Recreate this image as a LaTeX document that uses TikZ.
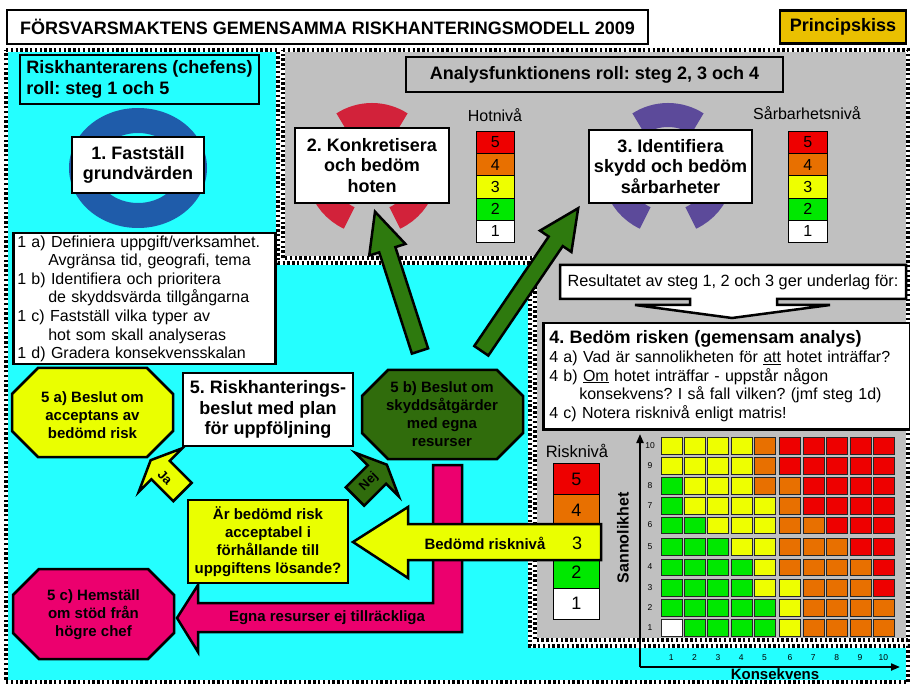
\documentclass[tikz,border=0pt]{standalone}
\usepackage{fontspec}
\setmainfont{Liberation Sans}
\usetikzlibrary{arrows.meta}
\definecolor{cyanbg}{RGB}{36,255,255}
\definecolor{graybg}{RGB}{192,192,192}
\definecolor{ringblue}{RGB}{31,92,170}
\definecolor{arcred}{RGB}{210,34,58}
\definecolor{arcpurple}{RGB}{92,74,154}
\definecolor{arrowgreen}{RGB}{46,122,14}
\definecolor{octgreen}{RGB}{48,108,12}
\definecolor{yel}{RGB}{234,255,0}
\definecolor{pinkc}{RGB}{236,0,110}
\definecolor{gold}{RGB}{234,192,0}
\definecolor{cR}{RGB}{238,0,0}
\definecolor{cO}{RGB}{232,112,0}
\definecolor{cY}{RGB}{238,255,0}
\definecolor{cG}{RGB}{0,232,0}
\colorlet{cW}{white}
\newcommand{\octa}[5]{\draw[shapeline, fill=#5] ({#1+26},#2) -- ({#3-26},#2) -- (#3,{#2+26}) -- (#3,{#4-26}) -- ({#3-26},#4) -- ({#1+26},#4) -- (#1,{#4-26}) -- (#1,{#2+26}) -- cycle;}
\begin{document}
\frenchspacing
\begin{tikzpicture}[x=1pt,y=-1pt,
  box/.style={draw, line width=2.5pt, fill=white, inner sep=0pt, align=center},
  shapeline/.style={draw=black, line width=2.5pt, line join=miter},
  bigfont/.style={font=\bfseries\fontsize{18}{20.5}\selectfont},
  midfont/.style={font=\bfseries\fontsize{15}{18}\selectfont},
  txtfont/.style={font=\fontsize{16}{18.6}\selectfont},
  scell/.style={draw=black, line width=0.8pt, inner sep=0pt, anchor=north west, font=\fontsize{16}{16}\selectfont},
  mcell/.style={draw=black!85, line width=0.8pt, inner sep=0pt, anchor=north west, minimum width=21pt, minimum height=16.7pt},
  axlab/.style={font=\fontsize{8.5}{9}\selectfont, inner sep=0pt},
  axisline/.style={line width=2pt, -{Triangle[length=9pt,width=7pt]}},
  dotw/.style={white, line width=3.2pt},
  dotb/.style={black, line width=3.2pt, dash pattern=on 2.4pt off 2.4pt},
  arcseg/.style={line width=24pt},
  smalltag/.style={font=\bfseries\fontsize{13}{13}\selectfont, inner sep=0pt}
]
\useasboundingbox (0,0) rectangle (910,684);
\fill[white] (0,0) rectangle (910,684);
% regions
\fill[cyanbg] (6,50) -- (278,50) -- (278,263) -- (530,263) -- (530,646) -- (908,646) -- (908,682) -- (6,682) -- cycle;
\fill[graybg] (283,50) -- (908,50) -- (908,640) -- (535,640) -- (535,258) -- (283,258) -- cycle;
\foreach \s in {dotw,dotb}{
  \draw[\s] (6,50) -- (278,50) -- (278,263) -- (530,263) -- (530,646) -- (908,646) -- (908,682) -- (6,682) -- cycle;
  \draw[\s] (283,50) -- (908,50) -- (908,640) -- (535,640) -- (535,258) -- (283,258) -- cycle;
}
% title
\node[box, bigfont, minimum width=641pt, minimum height=34pt] (title) at (327.5,27) {FÖRSVARSMAKTENS GEMENSAMMA RISKHANTERINGSMODELL 2009};
\node[box, bigfont, fill=gold, minimum width=126pt, minimum height=33pt] (princ) at (843,27) {Principskiss};
% step 1
\node[box, bigfont, fill=cyanbg, minimum width=239pt, minimum height=49pt, align=left] (chef) at (139.5,79.5) {Riskhanterarens (chefens)\\roll: steg 1 och 5};
\fill[ringblue, even odd rule] (138,168) ellipse [x radius=69pt, y radius=60pt] (138,168) ellipse [x radius=42pt, y radius=35pt];
\node[box, bigfont, minimum width=132pt, minimum height=56pt] (grund) at (138,165) {1. Fastställ\\grundvärden};
\node[box, txtfont, align=left, anchor=north west, text width=254pt, inner xsep=4pt, minimum height=131pt] (steg1) at (12,232) {1 a) Definiera uppgift/verksamhet.\\
\hspace*{31pt}Avgränsa tid, geografi, tema\\
1 b) Identifiera och prioritera\\
\hspace*{31pt}de skyddsvärda tillgångarna\\
1 c) Fastställ vilka typer av\\
\hspace*{31pt}hot som skall analyseras\\
1 d) Gradera konsekvensskalan};
% arcs
\begin{scope}[shift={(372,169)}, y=1pt]
  \draw[arcred, arcseg] (57:54) arc[start angle=57, end angle=123, radius=54];
  \draw[arcred, arcseg] (195:54) arc[start angle=195, end angle=245, radius=54];
  \draw[arcred, arcseg] (295:54) arc[start angle=295, end angle=345, radius=54];
\end{scope}
\begin{scope}[shift={(668,169)}, y=1pt]
  \draw[arcpurple, arcseg] (57:54) arc[start angle=57, end angle=123, radius=54];
  \draw[arcpurple, arcseg] (195:54) arc[start angle=195, end angle=245, radius=54];
  \draw[arcpurple, arcseg] (295:54) arc[start angle=295, end angle=345, radius=54];
\end{scope}
\node[box, bigfont, minimum width=154pt, minimum height=75pt] (hot) at (372,165.5) {2. Konkretisera\\och bedöm\\hoten};
\node[box, bigfont, minimum width=163pt, minimum height=73pt] (skydd) at (670.5,166.5) {3. Identifiera\\skydd och bedöm\\sårbarheter};
\node[box, bigfont, fill=graybg, minimum width=377pt, minimum height=35pt] (analys) at (594.5,74.5) {Analysfunktionens roll: steg 2, 3 och 4};
% scales
\node[txtfont] (hotlab) at (495,115) {Hotnivå};
\node[txtfont] (sarlab) at (807,113) {Sårbarhetsnivå};
\foreach \c [count=\i] in {cR,cO,cY,cG,cW}{
  \pgfmathtruncatemacro\n{6-\i}
  \node[scell, fill=\c, minimum width=38pt, minimum height=22.2pt] (hn\n) at (476,{131+22.2*(\i-1)}) {\n};
  \node[scell, fill=\c, minimum width=39pt, minimum height=22.2pt] (sn\n) at (788,{131+22.2*(\i-1)}) {\n};
}
% green arrows
\coordinate (g1) at (420,351);
\coordinate (g2) at (481.3,350.8);
\begin{scope}[shift={(g1)}, rotate=107.9]
  \draw[shapeline, fill=arrowgreen] (0,-8.5) -- (106.4,-8.5) -- (106.4,-19) -- (146.4,0) -- (106.4,19) -- (106.4,8.5) -- (0,8.5) -- cycle;
\end{scope}
\begin{scope}[shift={(g2)}, rotate=55.8]
  \draw[shapeline, fill=arrowgreen] (0,-8.5) -- (132.4,-8.5) -- (132.4,-19) -- (172.4,0) -- (132.4,19) -- (132.4,8.5) -- (0,8.5) -- cycle;
\end{scope}
% callout
\draw[shapeline, fill=white] (560,265) -- (906,265) -- (906,299) -- (777,299) -- (777,305) -- (830,305) -- (732,318) -- (635,305) -- (690,305) -- (690,299) -- (560,299) -- cycle;
\node[font=\fontsize{16.3}{18}\selectfont] (result) at (733,282) {Resultatet av steg 1, 2 och 3 ger underlag för:};
% step 4
\node[box, txtfont, align=left, anchor=north west, text width=355pt, inner xsep=6pt, minimum height=106pt] (steg4) at (542,322) {{\bfseries\fontsize{18}{20}\selectfont 4. Bedöm risken (gemensam analys)}\\
4 a) Vad är sannolikheten för \underline{att} hotet inträffar?\\
4 b) \underline{Om} hotet inträffar - uppstår någon\\
\hspace*{30pt}konsekvens? I så fall vilken? (jmf steg 1d)\\
4 c) Notera risknivå enligt matris!};
% risk scale
\node[font=\fontsize{16.5}{18}\selectfont] (risklab) at (577,451) {Risknivå};
\foreach \c [count=\i] in {cR,cO,cY,cG,cW}{
  \pgfmathtruncatemacro\n{6-\i}
  \node[scell, fill=\c, minimum width=46pt, minimum height=31.2pt, font=\fontsize{18}{18}\selectfont] (rn\n) at (553,{463+31.2*(\i-1)}) {\n};
}
% pink L arrow
\draw[shapeline, fill=pinkc] (433,465) -- (462,465) -- (462,632) -- (198,632) -- (198,652) -- (177,618) -- (198,585) -- (198,603) -- (433,603) -- cycle;
\node[midfont] (egna) at (327,618) {Egna resurser ej tillräckliga};
% yellow arrow
\draw[shapeline, fill=yel] (601,524) -- (408,524) -- (408,507) -- (353,542) -- (408,578) -- (408,560) -- (601,560) -- cycle;
\node[midfont] (bedomd) at (485,543) {Bedömd risknivå};
\node[font=\fontsize{18}{18}\selectfont] (tre) at (577,543) {3};
% octagons
\octa{12}{368}{173}{457}{yel}
\node[midfont, align=center] (b5a) at (92.5,415) {5 a) Beslut om\\acceptans av\\bedömd risk};
\octa{362}{370}{523}{459}{octgreen}
\node[midfont, align=center] (b5b) at (442,414) {5 b) Beslut om\\skyddsåtgärder\\med egna\\resurser};
\octa{13}{569}{174}{659}{pinkc}
\node[midfont, align=center] (b5c) at (93.5,615) {5 c) Hemställ\\om stöd från\\högre chef};
\node[box, bigfont, minimum width=170pt, minimum height=73pt] (beslut) at (268,409.5) {5. Riskhanterings-\\beslut med plan\\för uppföljning};
\node[box, midfont, fill=yel, minimum width=160pt, minimum height=83pt] (fraga) at (268,541.5) {Är bedömd risk\\acceptabel i\\förhållande till\\uppgiftens lösande?};
% Ja / Nej arrows
\coordinate (ja) at (182.5,492);
\coordinate (nej) at (355,496.5);
\begin{scope}[shift={(ja)}, rotate=135]
  \draw[shapeline, fill=yel] (0,-13) -- (31,-13) -- (31,-31) -- (45,0) -- (31,31) -- (31,13) -- (0,13) -- cycle;
\end{scope}
\begin{scope}[shift={(nej)}, rotate=45]
  \draw[shapeline, fill=octgreen] (0,-13) -- (31,-13) -- (31,-31) -- (45,0) -- (31,31) -- (31,13) -- (0,13) -- cycle;
\end{scope}
\node[smalltag, rotate=-45] (jatxt) at (165,477) {Ja};
\node[smalltag, rotate=45] (nejtxt) at (369,482) {Nej};
% matrix
\foreach \r/\yy/\row in {10/437.3/{cY,cY,cY,cY,cO,cR,cR,cR,cR,cR},
  9/457.3/{cY,cY,cY,cY,cO,cR,cR,cR,cR,cR},
  8/476.9/{cG,cY,cY,cY,cO,cO,cR,cR,cR,cR},
  7/496.8/{cG,cY,cY,cY,cY,cO,cR,cR,cR,cR},
  6/516.7/{cG,cG,cY,cY,cY,cO,cO,cR,cR,cR},
  5/538.3/{cG,cG,cG,cY,cY,cO,cO,cO,cR,cR},
  4/558.7/{cG,cG,cG,cG,cY,cO,cO,cO,cO,cR},
  3/578.9/{cG,cG,cG,cG,cY,cY,cO,cO,cO,cR},
  2/599/{cG,cG,cG,cG,cG,cY,cO,cO,cO,cO},
  1/619/{cW,cG,cG,cG,cG,cY,cO,cO,cO,cO}}{
  \foreach \c [count=\i] in \row {
    \pgfmathsetmacro\xx{660.7+23.35*(\i-1)+2*(\i>5)}
    \node[mcell, fill=\c] (m\r-\i) at (\xx,\yy) {};
  }
  \node[axlab] (rl\r) at (650,{\yy+8.35}) {\r};
}
\foreach \i in {1,...,10}{
  \pgfmathsetmacro\xx{660.7+23.35*(\i-1)+2*(\i>5)+10.5}
  \node[axlab] (cl\i) at (\xx,658) {\i};
}
\coordinate (ax0) at (640,667);
\coordinate (axy) at (640,434);
\coordinate (axx) at (900,667);
\draw[axisline] (ax0) -- (axy);
\draw[axisline] (ax0) -- (axx);
\node[font=\bfseries\fontsize{16}{16}\selectfont, rotate=90] (sann) at (623,538) {Sannolikhet};
\node[font=\bfseries\fontsize{15}{15}\selectfont, inner sep=0pt] (kons) at (775,674) {Konsekvens};
\end{tikzpicture}
\end{document}
